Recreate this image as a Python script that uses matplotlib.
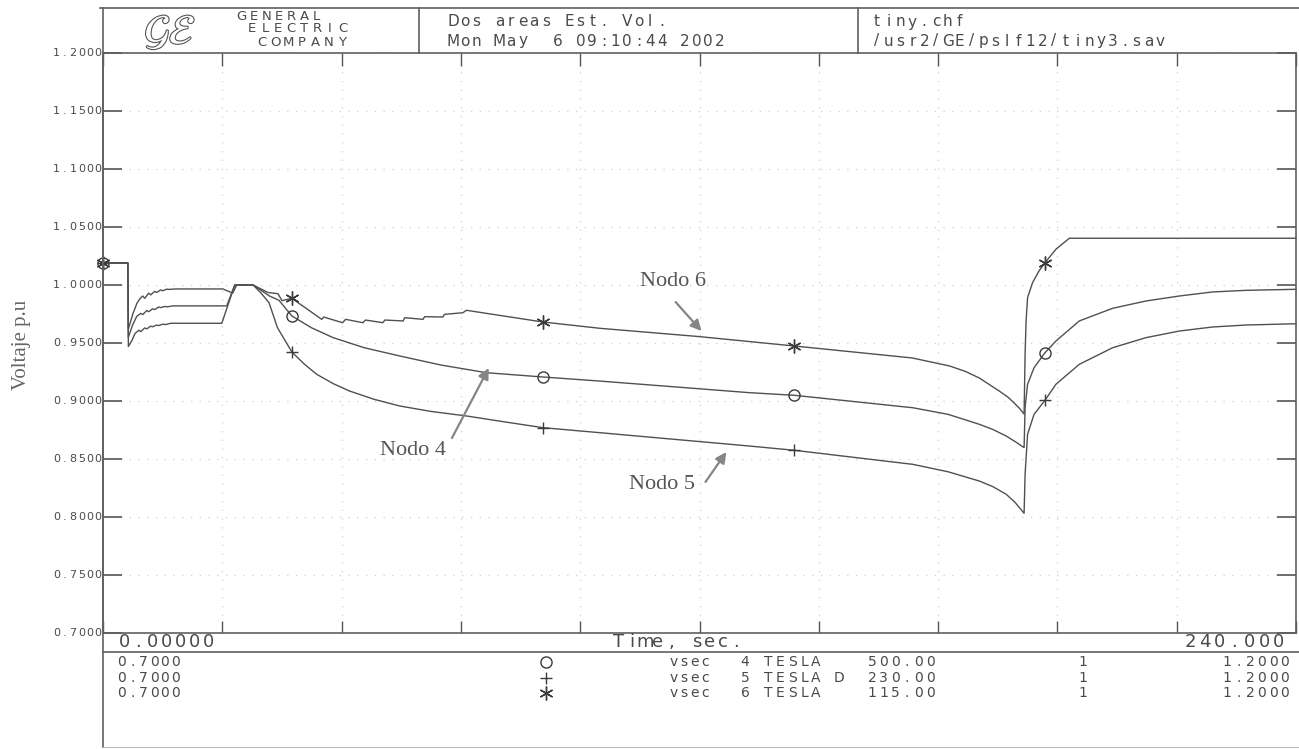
import numpy as np
import matplotlib
matplotlib.use("Agg")
import matplotlib.pyplot as plt
import matplotlib.patheffects as pe
from matplotlib.lines import Line2D
from matplotlib.transforms import blended_transform_factory

# Simulation output: bus voltages (p.u.) versus time (s)
NODO4_T = [0, 5.0, 5.1, 6.0, 6.8, 7.6, 8.0, 8.8, 9.2, 10.0, 10.4, 11.2, 11.6, 12.4, 13.0, 14.0,
           24.9, 26.5, 30.2, 33.5, 35.4, 38.0, 42.0, 46.3, 52.5, 59.7, 68.0, 77.1, 88.5, 99.9,
           130.0, 139.1, 162.9, 170.0, 176.3, 179.0, 181.7, 183.5, 185.3, 185.5, 186.0,
           187.3, 189.5, 191.7, 196.4, 203.1, 209.8, 216.5, 223.2, 229.9, 240.0]
NODO4_V = [1.019, 1.019, 0.955, 0.966, 0.973, 0.9755, 0.9745, 0.978, 0.977, 0.9795, 0.9788,
           0.981, 0.9805, 0.9815, 0.9812, 0.982, 0.982, 1.0, 1.0, 0.9905, 0.9868, 0.9733,
           0.963, 0.9546, 0.946, 0.9388, 0.931, 0.9244, 0.9207, 0.9172, 0.9072, 0.9049,
           0.8942, 0.8885, 0.8799, 0.8755, 0.8698, 0.865, 0.8598, 0.8942, 0.9144, 0.9287,
           0.9416, 0.9517, 0.969, 0.9799, 0.9862, 0.9905, 0.994, 0.9954, 0.9963]

NODO5_T = [0, 5.0, 5.1, 5.8, 6.4, 7.2, 7.6, 8.4, 8.8, 9.6, 10.0, 10.8, 11.2, 12.0, 12.6, 13.6,
           23.9, 26.5, 30.2, 31.8, 33.4, 35.1, 38.0, 40.5, 43.0, 46.3, 49.6, 54.5, 59.7,
           66.0, 73.1, 80.8, 88.5, 99.9, 130.0, 139.1, 162.9, 170.0, 176.3, 179.0, 181.7,
           183.5, 185.3, 185.5, 186.0, 187.3, 189.5, 191.7, 196.4, 203.1, 209.8, 216.5,
           223.2, 229.9, 240.0]
NODO5_V = [1.019, 1.019, 0.947, 0.952, 0.958, 0.961, 0.9598, 0.963, 0.9622, 0.9645, 0.964,
           0.9655, 0.965, 0.9662, 0.9659, 0.967, 0.967, 1.0, 1.0, 0.993, 0.9847, 0.9632,
           0.9422, 0.9318, 0.923, 0.915, 0.9086, 0.9015, 0.8957, 0.891, 0.8871, 0.882,
           0.877, 0.8727, 0.8612, 0.8575, 0.8454, 0.839, 0.831, 0.8262, 0.8196, 0.8125,
           0.8032, 0.8368, 0.8713, 0.8885, 0.9006, 0.9144, 0.9316, 0.9459, 0.9546, 0.9603,
           0.9638, 0.9655, 0.9666]

NODO6_T = [0, 5.0, 5.1, 6.0, 6.8, 7.4, 8.0, 8.4, 9.2, 9.6, 10.4, 10.8, 11.6, 12.0, 12.8, 13.4,
           14.5, 24.1, 26.1, 26.9, 30.2, 33.2, 35.2, 36.0, 38.0, 44.0, 44.4, 48.2, 48.8,
           52.3, 52.8, 56.3, 56.7, 60.4, 60.7, 64.4, 64.7, 68.4, 68.7, 72.4, 73.1, 88.5,
           99.9, 120.0, 139.1, 162.8, 170.3, 173.5, 176.3, 180.3, 182.0, 183.3, 184.3,
           185.3, 185.5, 185.7, 186.0, 187.0, 188.3, 189.5, 191.7, 194.4, 240.0]
NODO6_V = [1.019, 1.019, 0.962, 0.975, 0.984, 0.988, 0.9905, 0.9885, 0.993, 0.9915, 0.9945,
           0.9935, 0.9958, 0.995, 0.9964, 0.9962, 0.9966, 0.9966, 0.993, 1.0, 1.0, 0.9935,
           0.9925, 0.9865, 0.9885, 0.9704, 0.9724, 0.9675, 0.9704, 0.9675, 0.9698, 0.9675,
           0.9698, 0.969, 0.9718, 0.9704, 0.9727, 0.9724, 0.9747, 0.9761, 0.9782, 0.9681,
           0.9627, 0.9555, 0.9474, 0.9371, 0.9302, 0.9255, 0.9198, 0.9086, 0.9035, 0.8983,
           0.894, 0.8888, 0.9403, 0.969, 0.9891, 1.002, 1.0121, 1.0192, 1.0308, 1.0403, 1.0403]

# times where the plotter puts a symbol on each curve
MARK_T = [0, 38.0, 88.5, 139.1, 189.5]

XTICKS = list(range(0, 241, 24))
YTICKS = [0.70, 0.75, 0.80, 0.85, 0.90, 0.95, 1.00, 1.05, 1.10, 1.15, 1.20]
YTICK_LABELS = ["0.7000", "0.7500", "0.8000", "0.8500", "0.9000", "0.9500",
                "1.0000", "1.0500", "1.1000", "1.1500", "1.2000"]

# channel table under the plot
LEG_MIN = ["0.7000", "0.7000", "0.7000"]
LEG_VAR = ["vsec", "vsec", "vsec"]
LEG_BUS = ["4 TESLA", "5 TESLA D", "6 TESLA"]
LEG_KV = ["500.00", "230.00", "115.00"]
LEG_ID = ["1", "1", "1"]
LEG_MAX = ["1.2000", "1.2000", "1.2000"]

W, H = 1299, 749
INK = "#4a4a4a"
LINE = "#505050"
ASTER = (6, 2, 0)

plt.rcParams["mathtext.fontset"] = "stix"

fig = plt.figure(figsize=(W / 100, H / 100), dpi=100)
fig.patch.set_facecolor("white")


def fx(x):
    return x / W


def fy(y):
    return 1 - y / H


def spaced(x, y, s, pitch, size, transform=None, color=INK):
    # plotter font: every character sits on a fixed pitch
    tr = transform if transform is not None else fig.transFigure
    for i, ch in enumerate(s):
        if ch == " ":
            continue
        fig.text(fx(x + i * pitch), y, ch, ha="center", va="center", fontsize=size,
                 family="DejaVu Sans", color=color, transform=tr)


def hline(y, x0, x1, lw=1.2, color="#606060"):
    fig.add_artist(Line2D([fx(x0), fx(x1)], [fy(y), fy(y)], lw=lw, color=color,
                          transform=fig.transFigure))


def vline(x, y0, y1, lw=1.2, color="#606060"):
    fig.add_artist(Line2D([fx(x), fx(x)], [fy(y0), fy(y1)], lw=lw, color=color,
                          transform=fig.transFigure))


ax = fig.add_axes([fx(103), fy(633), (1296 - 103) / W, 580 / H])

series = [(NODO4_T, NODO4_V, "o", 8), (NODO5_T, NODO5_V, "+", 9), (NODO6_T, NODO6_V, ASTER, 10)]
for t, v, mk, ms in series:
    t = np.array(t)
    idx = [int(np.argmin(np.abs(t - m))) for m in MARK_T]
    ax.plot(t, v, color=LINE, lw=1.0, marker=mk, markevery=idx, ms=ms,
            mfc="none", mec="#3a3a3a", mew=1.0, clip_on=False)

ax.set_xlim(0, 240)
ax.set_ylim(0.7, 1.2)
ax.set_xticks(XTICKS)
ax.set_yticks(YTICKS)
ax.tick_params(axis="x", direction="in", length=9, top=True, bottom=True,
               labelbottom=False, color="#555", width=1.0)
ax.tick_params(axis="y", direction="in", length=14, left=True, right=True,
               labelleft=False, color="#555", width=1.2)
ax.grid(True, linestyle=(0, (1, 6)), color="#cfcfcf", lw=0.9)
for s in ax.spines.values():
    s.set_color("#606060")
    s.set_linewidth(1.2)

# y tick labels in the plotter font
ytr = blended_transform_factory(fig.transFigure, ax.transData)
for val, lab in zip(YTICKS, YTICK_LABELS):
    spaced(98 - 8.3 * (len(lab) - 1), val, lab, 8.3, 8, transform=ytr)

# node labels with arrows
arrow = dict(arrowstyle="-|>", color="#858585", lw=1.6, mutation_scale=16, shrinkA=0, shrinkB=0)
ax.text(114.6, 1.0034, "Nodo 6", ha="center", va="center", family="Liberation Serif",
        fontsize=16, color="#555")
ax.annotate("", xy=(120.4, 0.9603), xytext=(115.2, 0.9853), arrowprops=arrow)
ax.text(62.3, 0.8569, "Nodo 4", ha="center", va="center", family="Liberation Serif",
        fontsize=16, color="#555")
ax.annotate("", xy=(77.6, 0.9284), xytext=(70.2, 0.8681), arrowprops=arrow)
ax.text(112.4, 0.8284, "Nodo 5", ha="center", va="center", family="Liberation Serif",
        fontsize=16, color="#555")
ax.annotate("", xy=(125.4, 0.856), xytext=(121.2, 0.8302), arrowprops=arrow)

fig.text(fx(22), fy(345), "Voltaje p.u", rotation=90, ha="center", va="center",
         family="Liberation Serif", fontsize=15, color="#666")

# title block
hline(8, 100, W)
vline(103, 8, 747)
vline(419, 8, 53)
vline(858, 8, 53)
fig.text(fx(170), fy(32), r"$\mathcal{GE}$", ha="center", va="center", fontsize=30,
         color="white", path_effects=[pe.withStroke(linewidth=1.6, foreground="#555")])
spaced(241, fy(17), "GENERAL", 12.6, 9.5)
spaced(252, fy(29), "ELECTRIC", 13.0, 9.5)
spaced(262, fy(42), "COMPANY", 13.4, 9.5)
spaced(453, fy(22), "Dos areas Est. Vol.", 11.6, 11)
spaced(453, fy(41), "Mon May  6 09:10:44 2002", 11.6, 11)
spaced(877, fy(22), "tiny.chf", 11.8, 11)
spaced(877, fy(41), "/usr2/GE/pslf12/tiny3.sav", 11.8, 11)

# time axis strip
hline(652, 103, W)
spaced(124, fy(642), "0.00000", 14.0, 13)
spaced(619, fy(642), "Time, sec.", 13.0, 13)
spaced(1190, fy(642), "240.000", 14.8, 13)

# channel table
rows_y = [662, 678, 693]
leg_marks = [("o", 8), ("+", 9), (ASTER, 10)]
for i, y in enumerate(rows_y):
    spaced(122, fy(y), LEG_MIN[i], 10.7, 10)
    mk, ms = leg_marks[i]
    fig.add_artist(Line2D([fx(546)], [fy(y)], marker=mk, ms=ms, mfc="none", mec="#3a3a3a",
                          mew=1.0, ls="none", transform=fig.transFigure))
    spaced(674, fy(y), LEG_VAR[i], 10.3, 10)
    spaced(745, fy(y), LEG_BUS[i], 11.8, 10)
    spaced(872, fy(y), LEG_KV[i], 11.7, 10)
    spaced(1083, fy(y), LEG_ID[i], 11.0, 10)
    spaced(1227, fy(y), LEG_MAX[i], 11.5, 10)

hline(747, 103, W, lw=0.8, color="#bbbbbb")

fig.savefig("out.png", dpi=100, facecolor="white")
